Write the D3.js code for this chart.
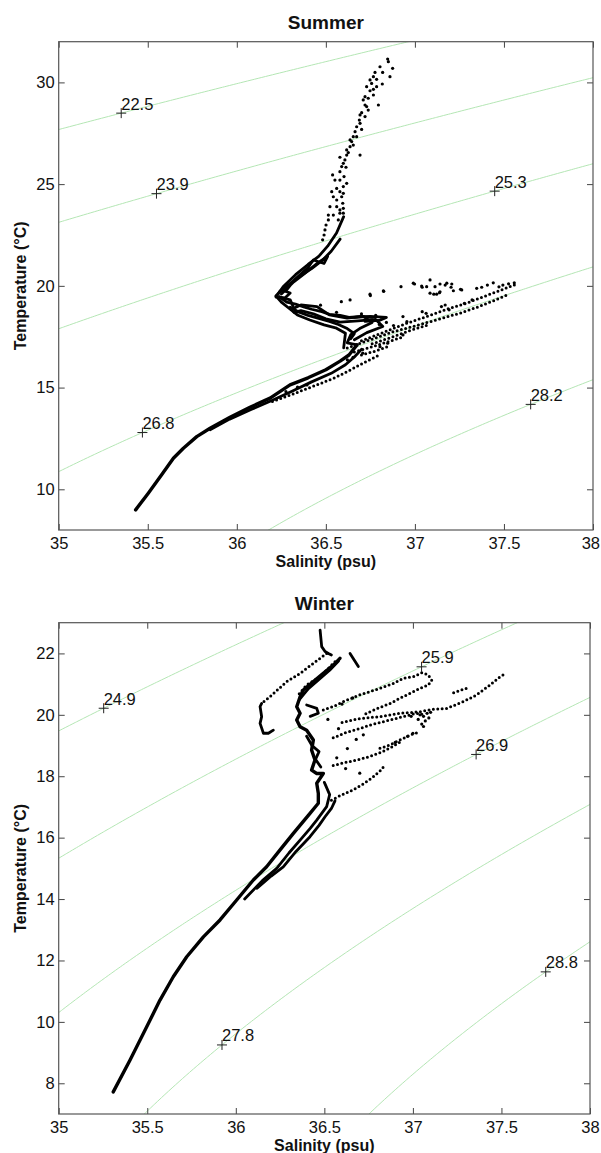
<!DOCTYPE html>
<html>
<head>
<meta charset="utf-8">
<script src="https://cdn.jsdelivr.net/npm/d3@7"></script>
<style>
  html, body { margin: 0; padding: 0; background: #fff; }
  svg { display: block; font-family: "Liberation Sans", Arial, Helvetica, sans-serif; }
</style>
</head>
<body>
<svg id="chart" width="601" height="1153"></svg>
<script>
// ---------- axis ticks ----------
const salinityTicks = [35, 35.5, 36, 36.5, 37, 37.5, 38];
const summerTempTicks = [10, 15, 20, 25, 30];
const winterTempTicks = [8, 10, 12, 14, 16, 18, 20, 22];

// ---------- isopycnal levels (sigma-t) and where their labels sit (salinity) ----------
const summerLevels = [22.5, 23.9, 25.3, 26.8, 28.2];
const summerLabelSalinity = [35.351, 35.549, 37.448, 35.470, 37.650];
const winterLevels = [24.9, 25.9, 26.9, 27.8, 28.8];
const winterLabelSalinity = [35.254, 37.049, 37.357, 35.922, 37.750];

// ---------- Summer profiles [salinity, temperature] ----------
const summerTrunk = [[35.432,8.99],[35.503,9.81],[35.578,10.71],[35.644,11.53],[35.700,12.02],[35.775,12.59],
  [35.850,13.00],[35.962,13.54],[36.074,14.03],[36.187,14.48],[36.299,15.13],[36.40,15.48],[36.50,15.88],
  [36.58,16.30],[36.63,16.60],[36.675,17.10]];
const summerStrands = [
  [[35.85,12.93],[35.96,13.45],[36.08,13.92],[36.20,14.38],[36.31,14.82],[36.42,15.28],[36.53,15.70],[36.61,16.12],[36.66,16.50],[36.70,16.88]],
  [[36.675,17.10],[36.62,17.20],[36.64,17.60],[36.69,17.90],[36.76,18.20],[36.71,18.50],[36.62,18.41],[36.52,18.57],[36.45,18.98],[36.36,19.06],[36.32,18.90],[36.30,19.31],[36.24,19.45]],
  [[36.60,16.95],[36.61,17.67],[36.56,17.92],[36.49,18.08],[36.41,18.32],[36.34,18.57],[36.30,18.85],[36.25,19.20],[36.22,19.50]],
  [[36.66,17.35],[36.73,17.70],[36.82,18.00],[36.78,18.35],[36.68,18.28],[36.58,18.22],[36.50,18.38],[36.43,18.62],[36.36,18.78],[36.32,18.70]],
  [[36.66,18.45],[36.75,18.50],[36.84,18.45],[36.80,18.30],[36.72,18.25]],
  [[36.24,19.45],[36.28,19.20],[36.33,19.10],[36.38,18.95],[36.42,18.85],[36.47,18.75],[36.52,18.60],[36.58,18.55],[36.63,18.45],[36.70,18.50],[36.76,18.45]],
  [[36.30,18.95],[36.35,18.70],[36.40,18.55],[36.46,18.40],[36.52,18.25],[36.57,18.10],[36.62,17.90],[36.66,17.65],[36.64,17.40]],
  [[36.22,19.50],[36.25,19.80],[36.30,19.65],[36.27,19.40],[36.24,19.45]],
  [[36.22,19.45],[36.26,19.95],[36.33,20.55],[36.40,21.05],[36.46,21.45],[36.51,21.95],[36.56,22.60],[36.60,23.40]],
  [[36.25,19.60],[36.32,20.20],[36.38,20.60],[36.45,21.10],[36.51,21.45],[36.49,21.10],[36.43,21.27],[36.40,20.90],[36.33,20.35],[36.28,19.80]],
  [[36.24,19.70],[36.29,20.05],[36.35,20.45],[36.42,20.85],[36.48,21.25],[36.53,21.70],[36.58,22.30]]
];
const summerDotted = [
  [[36.20,14.32],[36.32,14.70],[36.44,15.10],[36.55,15.48],[36.64,15.88],[36.72,16.25],[36.80,16.60]],
  [[36.62,16.95],[36.75,17.35],[36.88,17.75],[37.01,18.05],[37.13,18.35],[37.25,18.65],[37.35,18.95],[37.45,19.30],[37.53,19.60]],
  [[36.70,17.30],[36.82,17.70],[36.95,18.15],[37.07,18.50],[37.19,18.88],[37.29,19.15],[37.38,19.45],[37.48,19.78],[37.56,20.05]],
  [[36.66,16.75],[36.74,16.95],[36.83,17.20],[36.92,17.45]],
  [[36.70,16.60],[36.78,16.80],[36.86,17.05]],
  [[36.76,17.15],[36.86,17.45],[36.97,17.80],[37.08,18.10]]
];
const summerDots = [
  [36.847,31.15],[36.851,31.02],[36.875,30.69],[36.804,30.77],[36.819,30.49],[36.776,30.49],[36.767,30.28],
  [36.785,30.15],[36.860,30.28],[36.757,29.95],[36.817,29.92],[36.785,29.79],[36.767,29.66],[36.748,29.59],
  [36.738,29.22],[36.720,29.30],[36.710,29.14],[36.720,28.89],[36.795,28.89],[36.729,28.81],[36.701,28.51],
  [36.692,28.40],[36.688,28.15],[36.673,27.82],[36.701,27.69],[36.664,27.58],[36.654,27.33],[36.645,27.09],
  [36.636,26.84],[36.626,26.55],[36.617,26.43],[36.692,26.43],[36.579,26.32],[36.598,26.02],[36.589,25.86],
  [36.613,25.83],[36.579,25.61],[36.538,25.45],[36.551,25.20],[36.602,25.37],[36.598,24.88],[36.561,24.79],
  [36.533,24.63],[36.579,24.63],[36.542,24.38],[36.589,24.38],[36.595,24.06],[36.523,23.89],[36.561,23.89],
  [36.598,23.81],[36.514,23.48],[36.542,23.48],[36.579,23.57],[36.501,22.99],[36.514,23.24],[36.495,22.75],
  [36.490,22.50],[36.482,22.26],[36.748,30.12],[36.729,29.79],[36.767,29.38],[36.738,28.64],[36.720,28.32],
  [36.692,27.99],[36.673,27.33],[36.654,26.92],[36.636,27.17],[36.617,26.68],[36.607,26.19],[36.579,25.20],
  [36.617,25.04],[36.598,24.55],[36.561,24.22],[36.579,23.73],[36.598,23.57],[36.570,23.24],
  [36.587,19.22],[36.636,19.31],[36.748,19.59],[36.823,19.75],[36.922,19.96],[36.991,20.13],[37.038,19.99],
  [37.085,20.29],[37.066,19.96],[37.113,19.96],[37.141,20.09],[37.179,20.13],[37.207,20.09],[37.085,19.64],
  [37.122,19.59],[37.141,19.71],[37.216,19.76],[37.263,19.80],[37.347,19.88],[37.375,19.93],[37.407,20.04],
  [37.440,20.15],[37.472,19.95],[37.494,20.04],[37.526,20.10],[37.558,20.15],[36.998,20.09],[37.041,19.93],
  [37.170,20.04],[37.203,19.93],[37.256,19.83],[37.106,19.59],[37.138,19.66],[36.825,19.73],[36.750,19.52],
  [36.933,18.49],[36.955,18.24],[37.041,18.73],[37.063,18.65],[37.149,18.98],[37.170,19.06],[37.192,18.82],
  [37.278,19.14],[37.321,19.31],[36.276,14.80],[36.341,15.02],[36.394,15.13],[36.621,16.36],[36.653,16.49],
  [36.707,16.69],[36.804,17.01],[36.847,17.18],[36.933,17.59],
  [36.80,18.10],[36.84,18.20],[36.88,18.05],[36.78,18.55],[36.70,18.62],[36.56,18.70],[36.47,19.05]
];

// ---------- Winter profiles [salinity, temperature] ----------
const winterTrunk = [[35.308,7.72],[35.403,8.76],[35.497,9.84],[35.572,10.71],[35.647,11.47],[35.723,12.12],
  [35.817,12.77],[35.911,13.32],[36.005,13.97],[36.099,14.62],[36.174,15.05],[36.25,15.60],[36.325,16.14],
  [36.419,16.79],[36.466,17.12],[36.466,17.44],[36.457,17.77],[36.494,18.09],[36.457,18.09],[36.428,18.20],
  [36.447,18.53],[36.428,18.85],[36.438,19.18],[36.40,19.50],[36.363,19.61],[36.344,19.83],[36.363,20.05],
  [36.344,20.26],[36.363,20.59],[36.381,20.81],[36.438,21.08],[36.494,21.35],[36.551,21.62],[36.588,21.84]];
const winterStrands = [
  [[36.476,22.76],[36.485,22.22],[36.504,22.06],[36.523,22.00],[36.54,21.95]],
  [[36.146,20.37],[36.137,20.27],[36.146,19.94],[36.137,19.72],[36.156,19.40],[36.184,19.40],[36.212,19.50]],
  [[36.645,22.00],[36.692,21.57]],
  [[36.05,14.00],[36.15,14.60],[36.231,15.00],[36.30,15.50],[36.363,15.92],[36.42,16.30],[36.457,16.57],[36.513,17.01],[36.53,17.40],[36.50,17.80]],
  [[36.12,14.35],[36.20,14.75],[36.268,15.05],[36.34,15.55],[36.419,16.03],[36.47,16.40],[36.504,16.68],[36.54,16.95],[36.56,17.20]],
  [[36.40,20.32],[36.457,20.21],[36.466,20.05],[36.42,19.95]],
  [[36.36,20.50],[36.41,20.85],[36.47,21.15],[36.53,21.45],[36.58,21.75]],
  [[36.40,19.30],[36.43,19.00],[36.47,18.80],[36.45,18.55],[36.48,18.30]]
];
const winterDotted = [
  [[36.513,22.00],[36.438,21.68],[36.363,21.35],[36.287,21.08],[36.193,20.59],[36.146,20.37]],
  [[36.560,21.73],[36.476,21.24],[36.400,20.97],[36.344,20.59]],
  [[36.494,20.16],[36.551,20.27],[36.607,20.43],[36.70,20.65],[36.814,20.86],[36.890,21.02],[36.946,21.19],[37.003,21.24],
   [37.050,21.37],[37.087,21.30],[37.106,21.13],[37.087,20.97],[37.040,20.86],[36.984,20.70],[36.927,20.54],[36.871,20.37],
   [36.814,20.24],[36.758,20.10],[36.720,19.99]],
  [[36.60,19.75],[36.70,19.88],[36.814,19.94],[36.927,20.05],[37.040,20.10],[37.115,20.18],[37.191,20.21],[37.285,20.43],
   [37.360,20.65],[37.435,20.97],[37.492,21.24],[37.51,21.30]],
  [[36.55,19.25],[36.62,19.42],[36.70,19.55],[36.76,19.67],[36.85,19.80],[36.95,19.95],[37.02,20.05],[37.07,20.00]],
  [[36.814,18.91],[36.871,19.02],[36.927,19.18],[36.984,19.34],[37.04,19.45]],
  [[36.55,18.35],[36.62,18.45],[36.70,18.55],[36.76,18.65],[36.82,18.78],[36.88,18.95],[36.93,19.12]],
  [[36.54,17.22],[36.60,17.40],[36.66,17.55],[36.72,17.75],[36.77,17.95],[36.82,18.20],[36.84,18.35]],
  [[37.23,20.72],[37.27,20.80],[37.31,20.88]]
];
const winterDots = [
  [36.60,20.35],[36.66,20.55],[36.52,19.85],[36.58,19.55],[36.68,19.20],[36.72,19.35],[36.63,18.90],[36.57,18.60],
  [36.62,18.25],[36.70,18.10],[37.03,19.85],[37.05,19.70],[37.07,19.80],[37.09,19.90],[37.06,19.95],[37.04,20.00],
  [37.08,20.05],[36.97,19.30],[37.00,19.40],[36.90,19.10],[37.06,19.62],[37.10,20.08],[36.99,19.95]
];

// ---------- equation of state (UNESCO 1983, surface pressure) ----------
function sigmaT(S, T) {
  const rw = 999.842594 + 6.793952e-2 * T - 9.095290e-3 * T * T + 1.001685e-4 * T ** 3
    - 1.120083e-6 * T ** 4 + 6.536332e-9 * T ** 5;
  const A = 0.824493 - 4.0899e-3 * T + 7.6438e-5 * T * T - 8.2467e-7 * T ** 3 + 5.3875e-9 * T ** 4;
  const B = -5.72466e-3 + 1.0227e-4 * T - 1.6546e-6 * T * T;
  const C = 4.8314e-4;
  return rw + A * S + B * S * Math.sqrt(S) + C * S * S - 1000;
}
// temperature on an isopycnal at a given salinity (sigma-t falls as T rises)
function tempOnIsopycnal(S, level) {
  let lo = 0, hi = 40;
  for (let k = 0; k < 60; k++) {
    const mid = (lo + hi) / 2;
    if (sigmaT(S, mid) > level) lo = mid; else hi = mid;
  }
  return (lo + hi) / 2;
}

const svg = d3.select("#chart");
const W = +svg.attr("width");

function drawPanel(p) {
  const x = d3.scaleLinear().domain([35, 38]).range([p.left, p.right]);
  const y = d3.scaleLinear().domain(p.tDomain).range([p.bottom, p.top]);
  const g = svg.append("g");

  const clipId = "clip-" + p.key;
  svg.append("clipPath").attr("id", clipId).append("rect")
    .attr("x", p.left).attr("y", p.top)
    .attr("width", p.right - p.left).attr("height", p.bottom - p.top);

  // isopycnals
  const S0 = 34.6, S1 = 38.4, T0 = p.tDomain[0] - 1.5, T1 = p.tDomain[1] + 1.5;
  const nx = 191, ny = 161;
  const dS = (S1 - S0) / (nx - 1), dT = (T1 - T0) / (ny - 1);
  const values = new Float64Array(nx * ny);
  for (let j = 0; j < ny; j++)
    for (let i = 0; i < nx; i++)
      values[j * nx + i] = sigmaT(S0 + i * dS, T0 + j * dT);
  const contours = d3.contours().size([nx, ny]).smooth(true).thresholds(p.levels)(values);
  const gridLine = d3.line()
    .x(q => x(S0 + (q[0] - 0.5) * dS))
    .y(q => y(T0 + (q[1] - 0.5) * dT));
  const iso = g.append("g").attr("clip-path", `url(#${clipId})`);
  contours.forEach(c => c.coordinates.forEach(poly => poly.forEach(ring => {
    iso.append("path").attr("d", gridLine(ring) + "Z")
      .attr("fill", "none").attr("stroke", "#b4e6b4").attr("stroke-width", 1);
  })));

  // profiles
  const line = d3.line().x(d => x(d[0])).y(d => y(d[1]));
  const data = g.append("g").attr("clip-path", `url(#${clipId})`);
  data.append("path").attr("d", line(p.trunk)).attr("fill", "none").attr("stroke", "#000")
    .attr("stroke-width", 3.4).attr("stroke-linecap", "round").attr("stroke-linejoin", "round");
  data.selectAll("path.strand").data(p.strands).join("path").attr("class", "strand")
    .attr("d", line).attr("fill", "none").attr("stroke", "#000")
    .attr("stroke-width", 2.8).attr("stroke-linecap", "round").attr("stroke-linejoin", "round");
  data.selectAll("path.dotted").data(p.dotted).join("path").attr("class", "dotted")
    .attr("d", line).attr("fill", "none").attr("stroke", "#000")
    .attr("stroke-width", 3).attr("stroke-linecap", "round").attr("stroke-dasharray", "0 4.4");
  data.selectAll("circle").data(p.dots).join("circle")
    .attr("cx", d => x(d[0])).attr("cy", d => y(d[1])).attr("r", 1.6).attr("fill", "#000");

  // isopycnal labels
  const lab = g.append("g");
  p.levels.forEach((lev, k) => {
    const S = p.labelSalinity[k];
    const px = x(S), py = y(tempOnIsopycnal(S, lev));
    lab.append("path").attr("d", `M${px - 5},${py}H${px + 5}M${px},${py - 5}V${py + 5}`)
      .attr("stroke", "#222").attr("stroke-width", 1).attr("fill", "none");
    lab.append("text").attr("x", px).attr("y", py - 3.5).attr("font-size", 16.5)
      .attr("fill", "#111").text(lev.toFixed(1));
  });

  // axes
  const ax = g.append("g");
  const styleAxis = sel => {
    sel.select(".domain").remove();
    sel.selectAll(".tick line").attr("stroke", "#444");
    sel.selectAll(".tick text").attr("fill", "#111").attr("font-size", 16.5)
      .attr("font-family", "'Liberation Sans', Arial, sans-serif");
  };
  const bottomAxis = ax.append("g").attr("transform", `translate(0,${p.bottom})`)
    .call(d3.axisBottom(x).tickValues(salinityTicks).tickFormat(d => String(d))
      .tickSizeInner(-6).tickSizeOuter(0).tickPadding(7)).call(styleAxis);
  // keep the last salinity label inside the page
  bottomAxis.selectAll(".tick text").each(function () {
    const box = this.getBBox();
    const tx = +d3.select(this.parentNode).attr("transform").match(/translate\(([-\d.]+)/)[1];
    const overflow = tx + box.x + box.width - (W - 1);
    if (overflow > 0) d3.select(this).attr("x", -overflow);
  });
  ax.append("g").attr("transform", `translate(0,${p.top})`)
    .call(d3.axisTop(x).tickValues(salinityTicks).tickFormat("")
      .tickSizeInner(-6).tickSizeOuter(0)).call(styleAxis);
  ax.append("g").attr("transform", `translate(${p.left},0)`)
    .call(d3.axisLeft(y).tickValues(p.tTicks).tickFormat(d => String(d))
      .tickSizeInner(-6).tickSizeOuter(0).tickPadding(4)).call(styleAxis);
  ax.append("g").attr("transform", `translate(${p.right},0)`)
    .call(d3.axisRight(y).tickValues(p.tTicks).tickFormat("")
      .tickSizeInner(-6).tickSizeOuter(0)).call(styleAxis);
  g.append("rect").attr("x", p.left).attr("y", p.top)
    .attr("width", p.right - p.left).attr("height", p.bottom - p.top)
    .attr("fill", "none").attr("stroke", "#555").attr("stroke-width", 1.2);

  // titles
  const cx = (p.left + p.right) / 2;
  g.append("text").attr("x", cx).attr("y", p.titleY).attr("text-anchor", "middle")
    .attr("font-size", 19).attr("font-weight", "bold").attr("fill", "#111").text(p.title);
  g.append("text").attr("x", cx).attr("y", p.xLabelY).attr("text-anchor", "middle")
    .attr("font-size", 16).attr("font-weight", "bold").attr("fill", "#111").text("Salinity (psu)");
  g.append("text").attr("transform", `translate(${p.yLabelX},${(p.top + p.bottom) / 2}) rotate(-90)`)
    .attr("text-anchor", "middle").attr("dy", "0.35em")
    .attr("font-size", 16).attr("font-weight", "bold").attr("fill", "#111").text("Temperature (°C)");
}

drawPanel({
  key: "summer", title: "Summer", left: 58.7, right: 593, top: 41.7, bottom: 530,
  tDomain: [8, 32], tTicks: summerTempTicks, titleY: 29.3, xLabelY: 567, yLabelX: 20,
  levels: summerLevels, labelSalinity: summerLabelSalinity,
  trunk: summerTrunk, strands: summerStrands, dotted: summerDotted, dots: summerDots
});
drawPanel({
  key: "winter", title: "Winter", left: 58.7, right: 590, top: 622.7, bottom: 1114,
  tDomain: [7, 23], tTicks: winterTempTicks, titleY: 610, xLabelY: 1151, yLabelX: 20,
  levels: winterLevels, labelSalinity: winterLabelSalinity,
  trunk: winterTrunk, strands: winterStrands, dotted: winterDotted, dots: winterDots
});
</script>
</body>
</html>
